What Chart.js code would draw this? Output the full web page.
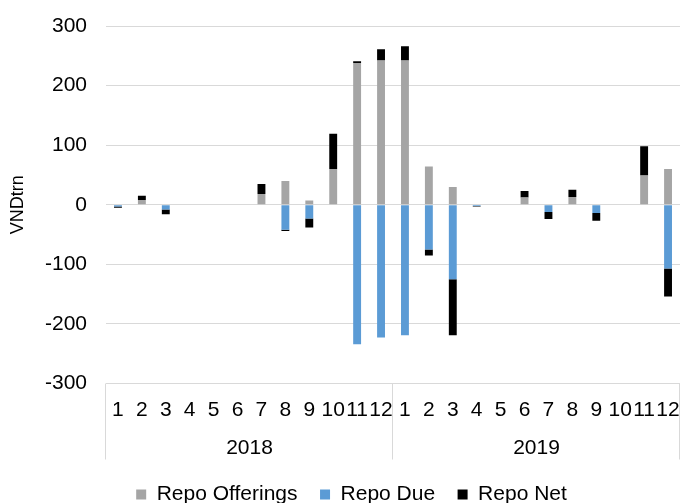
<!DOCTYPE html>
<html>
<head>
<meta charset="utf-8">
<title>Repo operations</title>
<script src="https://cdn.jsdelivr.net/npm/chart.js@4"></script>
<style>
  html, body { margin: 0; padding: 0; background: #fff; }
</style>
</head>
<body>
<canvas id="repoChart" width="681" height="503"></canvas>
<script>
// Month labels, two years side by side
const months = ['1', '2', '3', '4', '5', '6', '7', '8', '9', '10', '11', '12',
                '1', '2', '3', '4', '5', '6', '7', '8', '9', '10', '11', '12'];
const years = ['2018', '2019'];

// VND trillion
const offerings = [0, 8, 0, 1, 0, 0, 18, 40, 7, 60, 238, 242,
                   242, 64, 30, 0, 0, 12, 0, 13, 0, 0, 49, 60];
const due = [-3, 0, -8, 0, 0, 0, 0, -42, -23, 0, -234, -223,
             -219, -75, -125, -2, 0, 0, -12, 0, -14, 0, 0, -107];
const net = [-2, 7, -8, 0, 0, 0, 17, -2, -15, 59, 3, 19,
             24, -10, -94, -1, 0, 11, -12, 12, -13, 0, 49, -47];

const GRID = '#D9D9D9';

Chart.defaults.font.family = "'Liberation Sans', Arial, sans-serif";
Chart.defaults.font.size = 21;
Chart.defaults.color = '#000';

// vertical lines between the year groups under the axis
const yearSeparators = {
  id: 'yearSeparators',
  afterDraw(chart) {
    const x2 = chart.scales.x2;
    const ctx = chart.ctx;
    const step = x2.width / years.length;
    ctx.save();
    ctx.strokeStyle = GRID;
    ctx.lineWidth = 1;
    for (let i = 0; i <= years.length; i++) {
      const px = Math.round(x2.left + i * step) - 0.5;
      ctx.beginPath();
      ctx.moveTo(px, chart.chartArea.bottom);
      ctx.lineTo(px, x2.bottom - 2);
      ctx.stroke();
    }
    ctx.restore();
  }
};

const ctx = document.getElementById('repoChart').getContext('2d');
new Chart(ctx, {
  type: 'bar',
  data: {
    labels: months,
    datasets: [
      { label: 'Repo Offerings', data: offerings, backgroundColor: '#A5A5A5' },
      { label: 'Repo Due', data: due, backgroundColor: '#5B9BD5' },
      { label: 'Repo Net', data: net, backgroundColor: '#000000' }
    ]
  },
  options: {
    responsive: false,
    animation: false,
    layout: { padding: { top: 26, right: 1, bottom: -12, left: 23 } },
    datasets: { bar: { barPercentage: 0.33, categoryPercentage: 1 } },
    scales: {
      x: {
        stacked: true,
        grid: { display: false, tickLength: 14 },
        border: { display: false },
        ticks: { autoSkip: false, maxRotation: 0, padding: 0 },
        afterFit: (scale) => { scale.height = 37; }
      },
      x2: {
        type: 'category',
        labels: years,
        position: 'bottom',
        offset: true,
        grid: { display: false, tickLength: 15 },
        border: { display: false },
        ticks: { padding: 0 },
        afterFit: (scale) => { scale.height = 41; }
      },
      y: {
        stacked: true,
        min: -300,
        max: 300,
        ticks: { stepSize: 100, padding: 0 },
        grid: { color: GRID, tickLength: 19, tickColor: 'rgba(0,0,0,0)' },
        border: { display: false },
        title: { display: true, text: 'VNDtrn', font: { size: 18 }, padding: { top: -16, bottom: 0 } },
        afterFit: (scale) => { scale.width = 83; }
      }
    },
    plugins: {
      legend: { position: 'bottom', labels: { boxWidth: 10, boxHeight: 10, padding: 22.5 } },
      tooltip: { enabled: false }
    }
  },
  plugins: [yearSeparators]
});
</script>
</body>
</html>
